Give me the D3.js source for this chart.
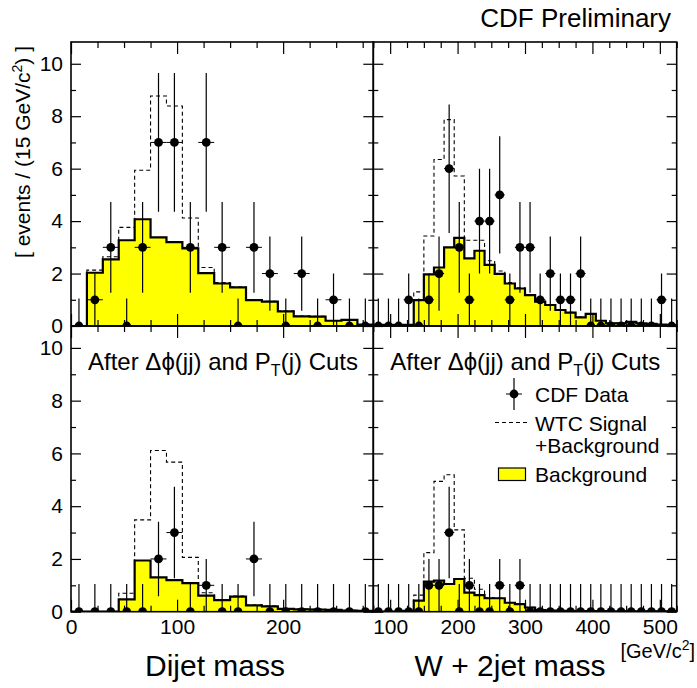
<!DOCTYPE html>
<html>
<head>
<meta charset="utf-8">
<script src="https://cdn.jsdelivr.net/npm/d3@7"></script>
<style>
  html, body { margin: 0; padding: 0; background: #fff; }
  svg { display: block; }
  text { font-family: "Liberation Sans", Arial, Helvetica, sans-serif; fill: #000; }
</style>
</head>
<body>
<svg id="chart" width="697" height="688"></svg>
<script>
// ---------------- data ----------------
const binWidth = 15;
const dijetMin = 0, dijetMax = 285;
const wjjMin = 75, wjjMax = 525;

// Top-left: dijet mass (before cuts)
const dijetData = [0,1,3,0,3,7,7,3,7,3,0,3,2,0,2,0,1,0,0];
const dijetBkg  = [0,2.03,2.54,3.27,4.07,3.38,3.2,2.96,2.02,1.62,1.47,0.99,0.93,0.56,0.37,0.36,0.2,0.23,0.05];
const dijetSig  = [0,2.13,2.64,3.76,5.94,8.77,8.39,4.12,2.23,1.66,1.49,1.0,0.94,0.57,0.38,0.37,0.21,0.24,0.06];

// Top-right: W + 2jet mass (before cuts)
const wjjData = [0,0,0,1,0,1,2,6,3,1,4,4,5,1,3,3,1,2,1,1,2,0,0,0,0,0,0,0,1,0];
const wjjBkg  = [0.04,0.04,0.04,0.04,0.99,1.97,2.23,3.0,3.36,2.58,2.87,2.33,1.99,1.62,1.43,1.18,0.93,0.8,0.61,0.51,0.33,0.46,0.2,0.1,0.1,0.16,0.1,0.08,0.05,0.03];
const wjjSig  = [0.04,0.04,0.04,0.05,1.3,3.43,6.35,7.87,5.72,3.27,3.27,2.49,2.1,1.66,1.46,1.2,0.94,0.81,0.62,0.52,0.34,0.47,0.21,0.11,0.11,0.17,0.11,0.09,0.06,0.04];

// Bottom-left: dijet mass after cuts
const cutDijetData = [0,0,0,0,0,2,3,0,1,0,0,2,0,0,0,0,0,0,0];
const cutDijetBkg  = [0,0,0,0.47,1.94,1.3,1.2,1.08,0.61,0.44,0.57,0.24,0.2,0.11,0.09,0.08,0.07,0.04,0.03];
const cutDijetSig  = [0,0,0,0.7,3.48,6.11,5.67,2.06,0.72,0.46,0.59,0.25,0.21,0.12,0.1,0.09,0.08,0.05,0.04];

// Bottom-right: W + 2jet mass after cuts
const cutWjjData = [0,0,0,0,0,1,1,3,0,1,0,0,1,0,1,0,0,0,0,0,0,0,0,0,0,0,0,0,0,0];
const cutWjjBkg  = [0,0,0,0.03,0.42,1.14,1.18,1.05,1.24,0.72,0.63,0.51,0.51,0.34,0.29,0.16,0.06,0.04,0.03,0.02,0.02,0.02,0.02,0.01,0.01,0.01,0.01,0.01,0.01,0.01];
const cutWjjSig  = [0,0,0,0.04,0.63,2.24,4.94,5.19,3.1,1.27,0.85,0.53,0.52,0.35,0.3,0.17,0.07,0.05,0.04,0.03,0.03,0.03,0.03,0.02,0.02,0.02,0.02,0.02,0.02,0.02];

const yTicksMajor = [0,2,4,6,8,10];
const yTicksMinor = [1,3,5,7,9];
const yMax = 10.83;
const zeroErrUp = 1.05;

// ---------------- layout ----------------
const svg = d3.select("#chart");
const cols = { L: [71, 373.3], R: [373.3, 676.7] };
const rows = { T: [42, 326], B: [326, 611.7] };

const xL = d3.scaleLinear().domain([dijetMin, dijetMax]).range(cols.L);
const xR = d3.scaleLinear().domain([wjjMin, wjjMax]).range(cols.R);
const yT = d3.scaleLinear().domain([0, yMax]).range([rows.T[1], rows.T[0]]);
const yB = d3.scaleLinear().domain([0, yMax]).range([rows.B[1], rows.B[0]]);

function edges(min, n) { return d3.range(n + 1).map(i => min + i * binWidth); }

function stepPath(x, y, min, vals) {
  const e = edges(min, vals.length);
  let p = `M${x(e[0])},${y(0)}`;
  vals.forEach((v, i) => { p += `L${x(e[i])},${y(v)}L${x(e[i + 1])},${y(v)}`; });
  p += `L${x(e[vals.length])},${y(0)}`;
  return p;
}

function range25(min, max) {
  const out = [];
  for (let v = Math.ceil(min / 25) * 25; v <= max; v += 25) out.push(v);
  return out;
}

function panel(x, y, min, data, bkg, sig, opts) {
  const g = svg.append("g");
  const [x0, x1] = x.range();
  const [y1, y0] = y.range();
  const clipId = "clip" + Math.round(x0) + "_" + Math.round(y0);
  svg.append("clipPath").attr("id", clipId)
    .append("rect").attr("x", x0).attr("y", y0).attr("width", x1 - x0).attr("height", y1 - y0);
  const body = g.append("g").attr("clip-path", `url(#${clipId})`);

  // signal + background (dashed)
  body.append("path").attr("d", stepPath(x, y, min, sig))
    .attr("fill", "none").attr("stroke", "#000").attr("stroke-width", 1.1)
    .attr("stroke-dasharray", "4,3");
  // background fill
  body.append("path").attr("d", stepPath(x, y, min, bkg))
    .attr("fill", "#ffff00").attr("stroke", "none");
  body.append("path").attr("d", stepPath(x, y, min, bkg))
    .attr("fill", "none").attr("stroke", "#000").attr("stroke-width", 2.2);

  // data points
  const centers = data.map((d, i) => min + (i + 0.5) * binWidth);
  const pts = body.append("g").selectAll("g").data(data).join("g");
  pts.append("line")
    .attr("x1", (d, i) => x(centers[i])).attr("x2", (d, i) => x(centers[i]))
    .attr("y1", d => y(d === 0 ? zeroErrUp : d + Math.sqrt(d)))
    .attr("y2", d => y(Math.max(0, d - Math.sqrt(d))))
    .attr("stroke", "#000").attr("stroke-width", 1.2);
  pts.append("line")
    .attr("x1", (d, i) => x(centers[i] - binWidth / 2)).attr("x2", (d, i) => x(centers[i] + binWidth / 2))
    .attr("y1", d => y(d)).attr("y2", d => y(d))
    .attr("stroke", "#000").attr("stroke-width", 1);
  pts.append("circle")
    .attr("cx", (d, i) => x(centers[i])).attr("cy", d => y(d)).attr("r", 4.4)
    .attr("fill", "#000");

  // ticks (inside, all four sides)
  const xMajor = range25(x.domain()[0], x.domain()[1]).filter(v => v % 100 === 0);
  const xMinor = range25(x.domain()[0], x.domain()[1]).filter(v => v % 100 !== 0);
  const axes = g.append("g");
  function addAxis(gen, tr, labelled) {
    const a = axes.append("g").attr("transform", tr).call(gen);
    a.attr("font-size", 21).attr("font-family", '"Liberation Sans", Arial, sans-serif');
    a.select(".domain").remove();
    a.selectAll("line").attr("stroke", "#000").attr("stroke-width", 1.2);
    a.selectAll("text").attr("fill", "#000");
    if (!labelled) a.selectAll("text").remove();
    return a;
  }
  addAxis(d3.axisBottom(x).tickValues(xMajor).tickSize(-12).tickSizeOuter(0).tickPadding(7).tickFormat(d3.format("d")),
    `translate(0,${y1})`, opts.xLabels);
  addAxis(d3.axisBottom(x).tickValues(xMinor).tickSize(-6).tickSizeOuter(0), `translate(0,${y1})`, false);
  addAxis(d3.axisTop(x).tickValues(xMajor).tickSize(-12).tickSizeOuter(0), `translate(0,${y0})`, false);
  addAxis(d3.axisTop(x).tickValues(xMinor).tickSize(-6).tickSizeOuter(0), `translate(0,${y0})`, false);
  addAxis(d3.axisLeft(y).tickValues(yTicksMajor).tickSize(-10).tickSizeOuter(0).tickPadding(8).tickFormat(d3.format("d")),
    `translate(${x0},0)`, opts.yLabels);
  addAxis(d3.axisLeft(y).tickValues(yTicksMinor).tickSize(-5).tickSizeOuter(0), `translate(${x0},0)`, false);
  addAxis(d3.axisRight(y).tickValues(yTicksMajor).tickSize(-10).tickSizeOuter(0), `translate(${x1},0)`, false);
  addAxis(d3.axisRight(y).tickValues(yTicksMinor).tickSize(-5).tickSizeOuter(0), `translate(${x1},0)`, false);

  // frame
  g.append("rect").attr("x", x0).attr("y", y0).attr("width", x1 - x0).attr("height", y1 - y0)
    .attr("fill", "none").attr("stroke", "#000").attr("stroke-width", 1.6);

  if (opts.cutLabel) {
    const t = g.append("text").attr("x", x0 + 17).attr("y", y0 + 44).attr("font-size", 24);
    t.append("tspan").text("After Δϕ(jj) and P");
    t.append("tspan").attr("font-size", 16).attr("dy", 6).text("T");
    t.append("tspan").attr("dy", -6).text("(j) Cuts");
  }
  return g;
}

panel(xL, yT, dijetMin, dijetData, dijetBkg, dijetSig, { yLabels: true, xLabels: false });
panel(xR, yT, wjjMin, wjjData, wjjBkg, wjjSig, { yLabels: false, xLabels: false });
panel(xL, yB, dijetMin, cutDijetData, cutDijetBkg, cutDijetSig, { yLabels: true, xLabels: true, cutLabel: true });
panel(xR, yB, wjjMin, cutWjjData, cutWjjBkg, cutWjjSig, { yLabels: false, xLabels: true, cutLabel: true });

// ---------------- legend ----------------
const leg = svg.append("g").attr("font-size", 21);
leg.append("line").attr("x1", 514).attr("x2", 514).attr("y1", 378).attr("y2", 410).attr("stroke", "#000").attr("stroke-width", 1.2);
leg.append("line").attr("x1", 506).attr("x2", 522).attr("y1", 394).attr("y2", 394).attr("stroke", "#000").attr("stroke-width", 1);
leg.append("circle").attr("cx", 514).attr("cy", 394).attr("r", 4.4).attr("fill", "#000");
leg.append("text").attr("x", 535).attr("y", 402).text("CDF Data");
leg.append("line").attr("x1", 495).attr("x2", 528).attr("y1", 422.5).attr("y2", 422.5)
  .attr("stroke", "#000").attr("stroke-width", 1.1).attr("stroke-dasharray", "4,3");
leg.append("text").attr("x", 535).attr("y", 431).text("WTC Signal");
leg.append("text").attr("x", 535).attr("y", 453).text("+Background");
leg.append("rect").attr("x", 498.5).attr("y", 468).attr("width", 27).attr("height", 12.5)
  .attr("fill", "#ffff00").attr("stroke", "#000").attr("stroke-width", 1.2);
leg.append("text").attr("x", 535).attr("y", 482).text("Background");

// ---------------- titles ----------------
svg.append("text").attr("x", 671).attr("y", 27).attr("text-anchor", "end").attr("font-size", 26)
  .text("CDF Preliminary");

const yl = svg.append("text").attr("transform", "translate(30,152) rotate(-90)")
  .attr("text-anchor", "middle").attr("font-size", 21);
yl.append("tspan").text("[ events / (15 GeV/c");
yl.append("tspan").attr("font-size", 14).attr("dy", -8).text("2");
yl.append("tspan").attr("dy", 8).text(") ]");

svg.append("text").attr("x", 215).attr("y", 676).attr("text-anchor", "middle").attr("font-size", 30).text("Dijet mass");
svg.append("text").attr("x", 510).attr("y", 676).attr("text-anchor", "middle").attr("font-size", 30).text("W + 2jet mass");
const un = svg.append("text").attr("x", 695).attr("y", 658).attr("text-anchor", "end").attr("font-size", 20);
un.append("tspan").text("[GeV/c");
un.append("tspan").attr("font-size", 14).attr("dy", -8).text("2");
un.append("tspan").attr("dy", 8).text("]");
</script>
</body>
</html>
